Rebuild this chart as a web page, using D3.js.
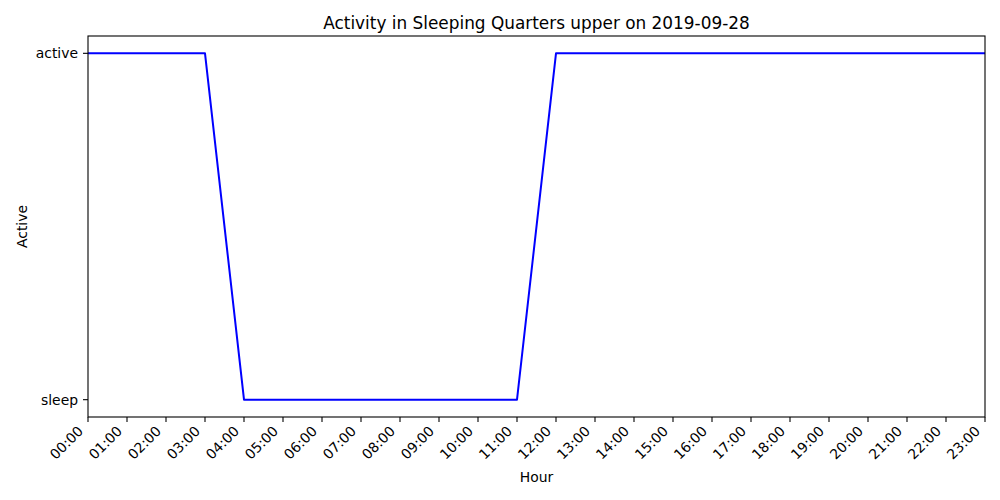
<!DOCTYPE html>
<html>
<head>
<meta charset="utf-8">
<script src="https://cdn.jsdelivr.net/npm/d3@7"></script>
<style>
  body { margin: 0; background: #fff; }
  svg text { font-family: "DejaVu Sans", sans-serif; fill: #000; }
</style>
</head>
<body>
<svg id="chart" width="1000" height="500"></svg>
<script>
// hours of the day and state per hour (1 = active, 0 = sleep)
const hours = d3.range(0, 24);
const hourLabels = hours.map(h => String(h).padStart(2, "0") + ":00");
const states = [1, 1, 1, 1, 0, 0, 0, 0, 0, 0, 0, 0, 1, 1, 1, 1, 1, 1, 1, 1, 1, 1, 1, 1];
const stateTicks = [0, 1];
const stateLabels = ["sleep", "active"];

const svg = d3.select("#chart");
const margin = { left: 88, right: 15, top: 36, bottom: 83 };
const W = 1000, H = 500;

const x = d3.scaleLinear().domain([0, 23]).range([margin.left, W - margin.right]);
const y = d3.scaleLinear().domain([-0.05, 1.05]).range([H - margin.bottom, margin.top]);

// line
svg.append("path")
    .datum(hours)
    .attr("fill", "none")
    .attr("stroke", "#0000ff")
    .attr("stroke-width", 2)
    .attr("stroke-linejoin", "round")
    .attr("d", d3.line().x(d => x(d)).y(d => y(states[d])));

// frame
svg.append("rect")
    .attr("x", margin.left).attr("y", margin.top)
    .attr("width", W - margin.left - margin.right)
    .attr("height", H - margin.top - margin.bottom)
    .attr("fill", "none").attr("stroke", "#000").attr("stroke-width", 1.1);

// x ticks
const xt = svg.append("g").selectAll("g").data(hours).enter().append("g");
xt.append("line")
    .attr("x1", d => x(d)).attr("x2", d => x(d))
    .attr("y1", y(-0.05)).attr("y2", y(-0.05) + 5)
    .attr("stroke", "#000").attr("stroke-width", 1.1);
xt.append("text")
    .attr("transform", d => `translate(${x(d) - 4},${y(-0.05) + 15}) rotate(-45)`)
    .attr("text-anchor", "end")
    .attr("font-size", 13.9)
    .text(d => hourLabels[d]);

// y ticks
const yt = svg.append("g").selectAll("g").data(stateTicks).enter().append("g");
yt.append("line")
    .attr("x1", margin.left - 5).attr("x2", margin.left)
    .attr("y1", d => y(d)).attr("y2", d => y(d))
    .attr("stroke", "#000").attr("stroke-width", 1.1);
yt.append("text")
    .attr("x", margin.left - 10)
    .attr("y", d => y(d))
    .attr("dy", "0.35em")
    .attr("text-anchor", "end")
    .attr("font-size", 13.9)
    .text((d, i) => stateLabels[i]);

// title and axis labels
svg.append("text")
    .attr("x", (x(0) + x(23)) / 2).attr("y", 29)
    .attr("text-anchor", "middle").attr("font-size", 16.9)
    .text("Activity in Sleeping Quarters upper on 2019-09-28");
svg.append("text")
    .attr("x", (x(0) + x(23)) / 2).attr("y", 482)
    .attr("text-anchor", "middle").attr("font-size", 13.9)
    .text("Hour");
svg.append("text")
    .attr("transform", `translate(27,${(y(0) + y(1)) / 2}) rotate(-90)`)
    .attr("text-anchor", "middle").attr("font-size", 13.9)
    .text("Active");
</script>
</body>
</html>
